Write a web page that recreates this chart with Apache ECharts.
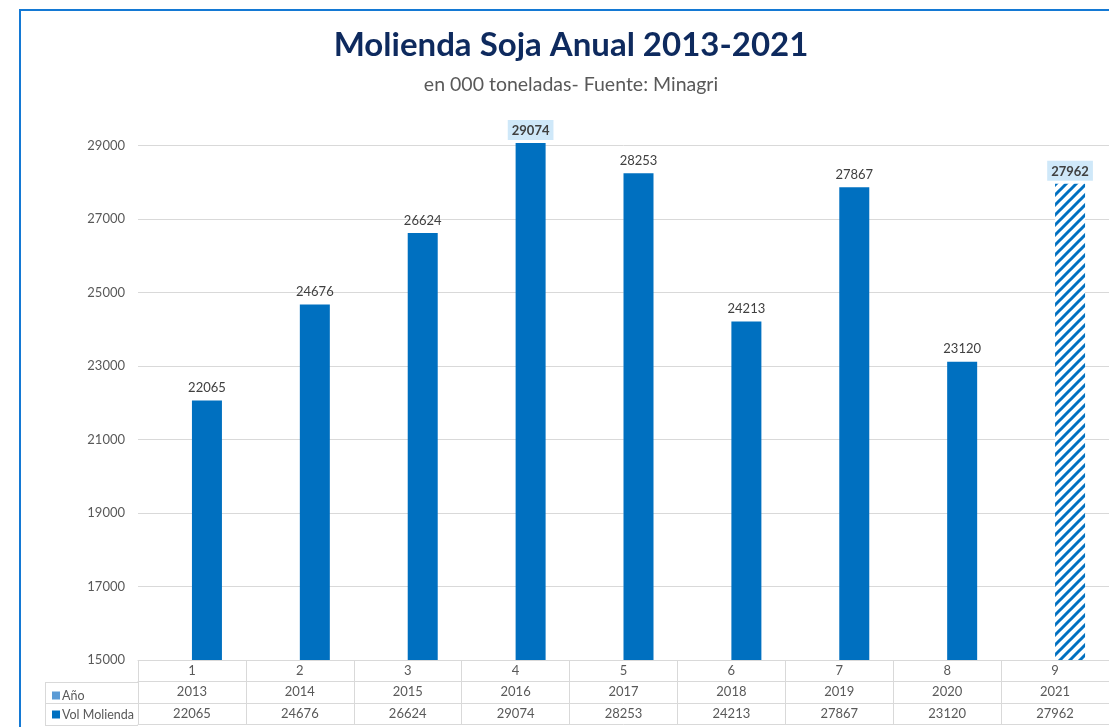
<!DOCTYPE html>
<html>
<head>
<meta charset="utf-8">
<script src="https://cdn.jsdelivr.net/npm/echarts@6/dist/echarts.min.js"></script>
<style>
    html, body { margin: 0; padding: 0; background: #fff; overflow: hidden; }
    #wrap { position: relative; width: 1109px; height: 727px; overflow: hidden; }
    #frame { position: absolute; left: 19px; top: 9px; width: 1200px; height: 800px; border: 2px solid #1479d4; box-sizing: border-box; }
    #chart { position: absolute; left: 0; top: 0; width: 1109px; height: 727px; }
</style>
</head>
<body>
<div id="wrap">
    <div id="frame"></div>
    <div id="chart"></div>
</div>
<script>
    // datos
    var categorias = ['1', '2', '3', '4', '5', '6', '7', '8', '9'];
    var anios = [2013, 2014, 2015, 2016, 2017, 2018, 2019, 2020, 2021];
    var volMolienda = [22065, 24676, 26624, 29074, 28253, 24213, 27867, 23120, 27962];
    var yTicks = [15000, 17000, 19000, 21000, 23000, 25000, 27000, 29000];

    var destacados = [3, 8];   // etiquetas con recuadro
    var estimado = 8;          // barra rayada (2021)

    var gridLeft = 138, gridBottom = 67, filaH = 21.5;
    var H = 727;

    //patron rayado
    function rayas() {
        var c = document.createElement('canvas');
        c.width = 10; c.height = 10;
        var ctx = c.getContext('2d');
        ctx.fillStyle = '#ffffff';
        ctx.fillRect(0, 0, 10, 10);
        ctx.strokeStyle = '#0070c0';
        ctx.lineWidth = 3;
        ctx.beginPath();
        ctx.moveTo(0, 10); ctx.lineTo(10, 0);
        ctx.moveTo(-5, 5); ctx.lineTo(5, -5);
        ctx.moveTo(5, 15); ctx.lineTo(15, 5);
        ctx.stroke();
        return c;
    }

    var volData = volMolienda.map(function (v, i) {
        var d = { value: v };
        if (destacados.indexOf(i) >= 0) {
            d.label = {
                fontWeight: 'bold',
                backgroundColor: '#cfe8f9',
                padding: [4, 4, 3, 4],
                distance: 3
            };
        }
        if (i === estimado) {
            d.itemStyle = { color: { image: rayas(), repeat: 'repeat' } };
        }
        return d;
    });

    var fuente = 'Lato, "Open Sans", sans-serif';
    var gris = '#595959';
    var linea = '#d9d9d9';

    var yBase = H - gridBottom;
    var headerLines = [];
    [1, 2, 3].forEach(function (k) {
        var y = Math.round(yBase + k * filaH) + 0.5;
        headerLines.push({
            type: 'line',
            shape: { x1: 45, y1: y, x2: gridLeft, y2: y },
            style: { stroke: linea, lineWidth: 1 }
        });
    });
    headerLines.push({
        type: 'line',
        shape: { x1: 45.5, y1: Math.round(yBase + filaH), x2: 45.5, y2: Math.round(yBase + 3 * filaH) + 1 },
        style: { stroke: linea, lineWidth: 1 }
    });

    var chart = echarts.init(document.getElementById('chart'));
    chart.setOption({
        animation: false,
        textStyle: { fontFamily: fuente },
        title: [
            {
                text: 'Molienda Soja Anual 2013-2021',
                left: 566,
                textAlign: 'center',
                top: 24,
                textStyle: { fontSize: 33, fontWeight: 'bold', color: '#0e2a5e', fontFamily: fuente }
            },
            {
                text: 'en 000 toneladas- Fuente: Minagri',
                left: 566,
                textAlign: 'center',
                top: 70,
                textStyle: { fontSize: 19.5, fontWeight: 'normal', color: gris, fontFamily: fuente }
            }
        ],
        legend: {
            orient: 'vertical',
            left: 47,
            top: 684,
            itemWidth: 8,
            itemHeight: 8,
            itemGap: 6,
            icon: 'rect',
            data: ['Año', 'Vol Molienda'],
            textStyle: { fontSize: 12.5, color: gris, padding: [0, 0, 0, -3] }
        },
        grid: {
            left: gridLeft,
            right: 0,
            top: 109,
            bottom: gridBottom
        },
        xAxis: [
            {
                type: 'category',
                data: categorias,
                position: 'bottom',
                axisLine: { lineStyle: { color: linea } },
                axisTick: { show: true, interval: 0, length: filaH * 3, lineStyle: { color: linea } },
                axisLabel: { interval: 0, margin: 4, fontSize: 13, color: gris }
            },
            {
                type: 'category',
                data: anios.map(String),
                position: 'bottom',
                offset: filaH,
                axisLine: { lineStyle: { color: linea } },
                axisTick: { show: false },
                axisLabel: { interval: 0, margin: 4, fontSize: 13, color: gris }
            },
            {
                type: 'category',
                data: volMolienda.map(String),
                position: 'bottom',
                offset: filaH * 2,
                axisLine: { lineStyle: { color: linea } },
                axisTick: { show: false },
                axisLabel: { interval: 0, margin: 4, fontSize: 13, color: gris }
            },
            {
                type: 'category',
                data: categorias,
                position: 'bottom',
                offset: filaH * 3,
                axisLine: { lineStyle: { color: linea } },
                axisTick: { show: false },
                axisLabel: { show: false }
            }
        ],
        yAxis: {
            type: 'value',
            min: yTicks[0],
            max: 30000,
            interval: 2000,
            axisLine: { show: false },
            axisTick: { show: false },
            axisLabel: {
                fontSize: 13, color: gris, margin: 13, showMaxLabel: false,
                formatter: function (v) { return String(v); }
            },
            splitLine: { showMaxLine: false, lineStyle: { color: linea } }
        },
        series: [
            {
                name: 'Año',
                type: 'bar',
                xAxisIndex: 0,
                barWidth: 30,
                barGap: '0%',
                clip: true,
                itemStyle: { color: '#5b9bd5' },
                data: anios
            },
            {
                name: 'Vol Molienda',
                type: 'bar',
                xAxisIndex: 0,
                barWidth: 30,
                itemStyle: { color: '#0070c0' },
                label: {
                    show: true,
                    position: 'top',
                    distance: 6,
                    fontSize: 13,
                    color: '#404040'
                },
                data: volData
            }
        ],
        graphic: headerLines
    });
</script>
</body>
</html>
